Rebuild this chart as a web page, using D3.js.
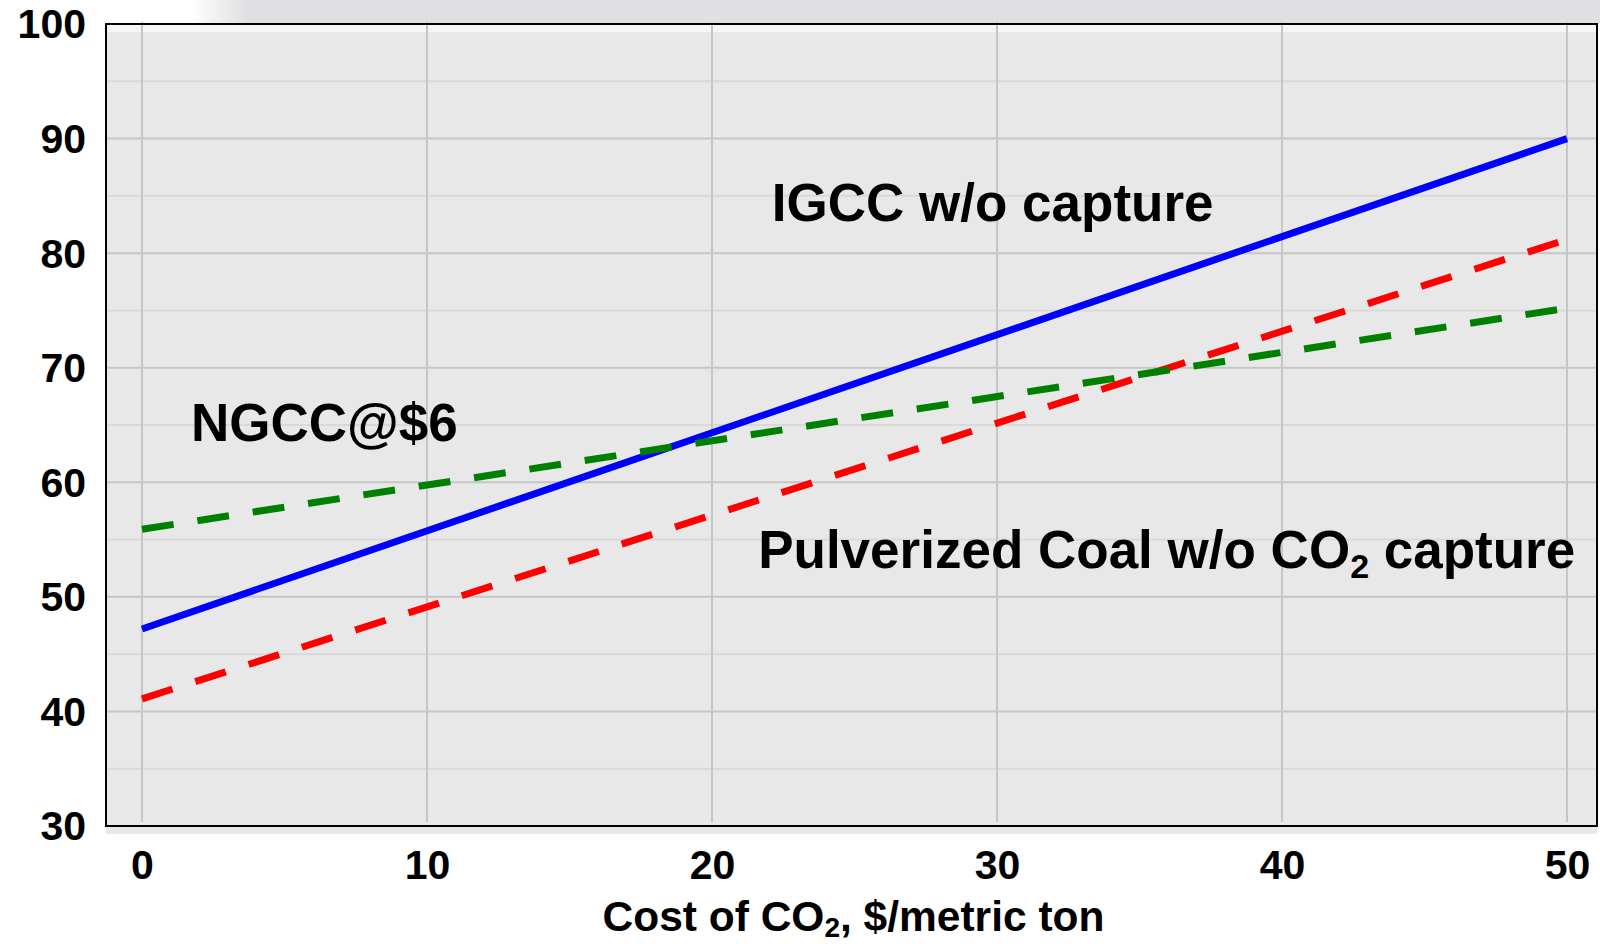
<!DOCTYPE html>
<html>
<head>
<meta charset="utf-8">
<script src="https://cdn.jsdelivr.net/npm/d3@7"></script>
<style>
  html, body { margin: 0; padding: 0; background: #ffffff; }
  svg { display: block; }
  text { font-family: "Liberation Sans", Arial, sans-serif; font-weight: bold; fill: #000; }
</style>
</head>
<body>
<svg id="chart" width="1600" height="944"></svg>
<script>
// ---- data ----
const costCO2 = [0, 50];                 // $/metric ton
const igccNoCapture = [47.2, 90];        // blue solid
const pcNoCapture = [41.1, 81.2];        // red dashed
const ngcc6 = [55.9, 75.2];              // green dashed
const xTicks = [0, 10, 20, 30, 40, 50];
const yTicks = [30, 40, 50, 60, 70, 80, 90, 100];
const yMinorTicks = [35, 45, 55, 65, 75, 85, 95];

const labels = [
  { text: "IGCC w/o capture", x: 22.1, y: 82.8 },
  { text: "NGCC@$6", x: 1.72, y: 63.6 },
  { text: "Pulverized Coal w/o CO", sub: "2", tail: " capture", x: 21.62, y: 52.55 }
];

// ---- layout ----
const svg = d3.select("#chart");
const frame = { left: 106, right: 1597, top: 24, bottom: 826 };
const x = d3.scaleLinear().domain([0, 50]).range([142, 1567]);
const y = d3.scaleLinear().domain([30, 100]).range([frame.bottom, frame.top]);

// top decorative band
const defs = svg.append("defs");
const grad = defs.append("linearGradient").attr("id", "topband").attr("x1", 0).attr("x2", 1).attr("y1", 0).attr("y2", 0);
grad.append("stop").attr("offset", "0").attr("stop-color", "#ffffff");
grad.append("stop").attr("offset", "0.04").attr("stop-color", "#e0e0e2");
grad.append("stop").attr("offset", "1").attr("stop-color", "#e0e0e2");
svg.append("rect").attr("x", 190).attr("y", 0).attr("width", 1410).attr("height", frame.top)
  .attr("fill", "url(#topband)");

// plot background (slightly offset, as in reference)
svg.append("rect")
  .attr("x", frame.left).attr("y", frame.top)
  .attr("width", frame.right - frame.left).attr("height", 8)
  .attr("fill", "#f6f6f4");
svg.append("rect")
  .attr("x", frame.left).attr("y", frame.top + 8)
  .attr("width", frame.right - frame.left).attr("height", frame.bottom - frame.top)
  .attr("fill", "#e8e8e8");

// gridlines
svg.append("g").selectAll("line").data(yMinorTicks).join("line")
  .attr("x1", frame.left).attr("x2", frame.right)
  .attr("y1", d => y(d)).attr("y2", d => y(d))
  .attr("stroke", "#d9d9d9").attr("stroke-width", 2);
svg.append("g").selectAll("line").data(yTicks).join("line")
  .attr("x1", frame.left).attr("x2", frame.right)
  .attr("y1", d => y(d)).attr("y2", d => y(d))
  .attr("stroke", "#c6c6c6").attr("stroke-width", 2);
svg.append("g").selectAll("line").data(xTicks).join("line")
  .attr("x1", d => x(d)).attr("x2", d => x(d))
  .attr("y1", frame.top - 2).attr("y2", frame.bottom - 4)
  .attr("stroke", "#c6c6c6").attr("stroke-width", 2);

// frame
svg.append("rect")
  .attr("x", frame.left).attr("y", frame.top)
  .attr("width", frame.right - frame.left).attr("height", frame.bottom - frame.top)
  .attr("fill", "none").attr("stroke", "#000").attr("stroke-width", 2);

// axes (labels only)
const yAxis = svg.append("g").attr("transform", `translate(${frame.left},0)`)
  .call(d3.axisLeft(y).tickValues(yTicks).tickSize(0).tickPadding(20).tickFormat(d3.format("d")));
yAxis.select(".domain").remove();
yAxis.selectAll("text").attr("font-size", 41).attr("dy", "0.34em")
  .style("font-family", "'Liberation Sans', Arial, sans-serif").style("font-weight", "bold").attr("fill", "#000");

const xAxis = svg.append("g").attr("transform", `translate(0,${frame.bottom})`)
  .call(d3.axisBottom(x).tickValues(xTicks).tickSize(0).tickPadding(24).tickFormat(d3.format("d")));
xAxis.select(".domain").remove();
xAxis.selectAll("text").attr("font-size", 41)
  .style("font-family", "'Liberation Sans', Arial, sans-serif").style("font-weight", "bold").attr("fill", "#000");

// axis title
const title = svg.append("text").attr("x", (x(0) + x(50)) / 2 - 1).attr("y", 931)
  .attr("text-anchor", "middle").attr("font-size", 42.5);
title.append("tspan").text("Cost of CO");
title.append("tspan").text("2").attr("font-size", 28).attr("dy", 6);
title.append("tspan").text(", $/metric ton").attr("dy", -6);

// series
const line = d3.line().x((d, i) => x(costCO2[i])).y(d => y(d));
svg.append("path").datum(igccNoCapture).attr("d", line)
  .attr("fill", "none").attr("stroke", "#0000ff").attr("stroke-width", 7);
svg.append("path").datum(pcNoCapture).attr("d", line)
  .attr("fill", "none").attr("stroke", "#ff0000").attr("stroke-width", 7)
  .attr("stroke-dasharray", "32,24");
svg.append("path").datum(ngcc6).attr("d", line)
  .attr("fill", "none").attr("stroke", "#008000").attr("stroke-width", 7)
  .attr("stroke-dasharray", "32,24");

// annotations
labels.forEach(l => {
  const t = svg.append("text").attr("x", x(l.x)).attr("y", y(l.y)).attr("font-size", 53);
  t.append("tspan").text(l.text);
  if (l.sub) {
    t.append("tspan").text(l.sub).attr("font-size", 34).attr("dy", 10);
    t.append("tspan").text(l.tail).attr("dy", -10);
  }
});
</script>
</body>
</html>
